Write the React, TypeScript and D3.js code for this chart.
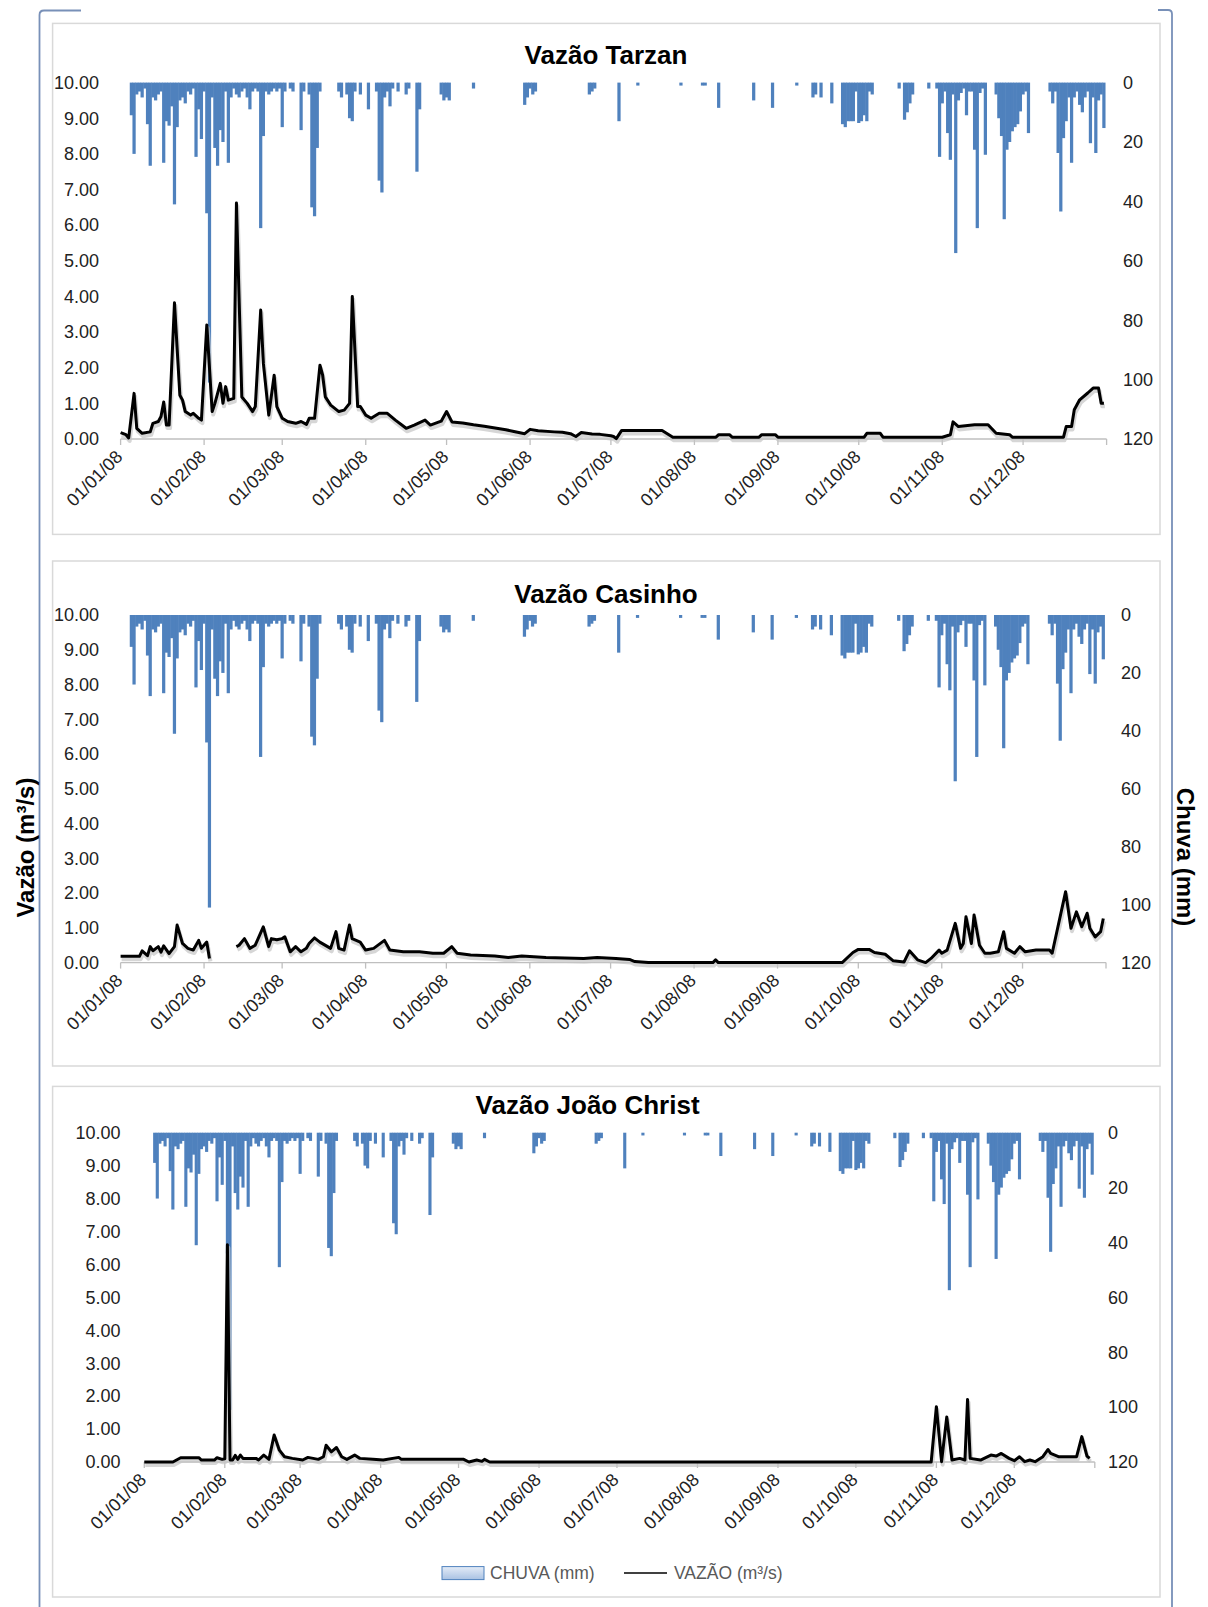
import React from 'react';
import * as d3 from 'd3';

// day index (0 = 01/01/08) and value pairs
const flowTicks = [0, 1, 2, 3, 4, 5, 6, 7, 8, 9, 10];
const rainTicks = [0, 20, 40, 60, 80, 100, 120];

// daily rain (mm) - same gauge in the three panels
const rain: [number, number][] = [
  [4, 11], [5, 24], [6, 4], [7, 3], [8, 5], [9, 2], [10, 14], [11, 28], [12, 5], [13, 6], [14, 4], [15, 3],
  [16, 27], [17, 13], [18, 14.5], [19, 8], [20, 41], [21, 15], [22, 6], [23, 5], [24, 7], [25, 3], [26, 4],
  [27, 2], [28, 25], [29, 9], [30, 19], [31, 3], [32, 44], [33, 101], [34, 5], [35, 22], [36, 28], [37, 16],
  [38, 20], [39, 3], [40, 27], [41, 5], [42, 2], [43, 4], [44, 5], [45, 3], [46, 2], [47, 5], [48, 9], [49, 3],
  [50, 2], [51, 3], [52, 49], [53, 18], [54, 3], [55, 4], [56, 3], [57, 2], [58, 3], [59, 2], [60, 15], [61, 3],
  [63, 2], [64, 3], [67, 16], [68, 3], [70, 4], [71, 42], [72, 45], [73, 22], [74, 3], [81, 3], [82, 5], [84, 4],
  [85, 12], [86, 13], [87, 3], [89, 4], [92, 9], [95, 3], [96, 33], [97, 37], [98, 5], [99, 3], [100, 8],
  [101, 2], [103, 3], [106, 4], [107, 2], [110, 30], [111, 9], [119, 4], [120, 6], [121, 5], [122, 6], [131, 2],
  [150, 7.5], [151, 5], [152, 2], [153, 4], [154, 3], [174, 4], [175, 3], [176, 2], [185, 13], [192, 1],
  [208, 1], [216, 1], [217, 1], [222, 8.5], [235, 6], [242, 8.5], [251, 1], [257, 5], [258, 4], [260, 5],
  [264, 7], [268, 14], [269, 15], [270, 13], [271, 13], [272, 13], [273, 3], [274, 13.6], [275, 13], [276, 11],
  [277, 13], [278, 3], [279, 4], [289, 2], [291, 12.5], [292, 10], [293, 7], [294, 4], [300, 2], [303, 2],
  [304, 25], [305, 7], [306, 3], [307, 17], [308, 26], [309, 4], [310, 57.4], [311, 6], [312, 3.5], [313, 2],
  [314, 11], [315, 3], [316, 3], [317, 22.6], [318, 49], [319, 3.5], [320, 2], [321, 24.3], [325, 4], [326, 12],
  [327, 18], [328, 46], [329, 22.6], [330, 20], [331, 16.4], [332, 15], [333, 14], [334, 9.7], [335, 4],
  [336, 3], [337, 17], [345, 3], [346, 7], [347, 3], [348, 23.7], [349, 43.4], [350, 18.7], [351, 13], [352, 5],
  [353, 27], [354, 5], [355, 3], [356, 7.5], [357, 10], [358, 5], [359, 3], [360, 20.4], [361, 5], [362, 23.7],
  [363, 6], [364, 4], [365, 15.3],
];

const tarzan: [number, number | null][] = [
  [0, 0.18], [2, 0.12], [3, 0.03], [5, 1.28], [6, 0.3], [8, 0.16], [11, 0.2], [12, 0.44], [14, 0.49], [15, 0.63],
  [16, 1.04], [17, 0.39], [18, 0.39], [20, 3.82], [22, 1.23], [23, 1.09], [24, 0.77], [26, 0.67], [27, 0.72],
  [29, 0.58], [30, 0.53], [32, 3.2], [34, 0.77], [35, 1.0], [37, 1.56], [38, 1.0], [39, 1.47], [40, 1.09],
  [42, 1.14], [43, 6.62], [45, 1.18], [47, 1.0], [49, 0.77], [50, 0.91], [52, 3.62], [53, 2.12], [55, 0.67],
  [57, 1.79], [58, 0.91], [60, 0.58], [62, 0.49], [65, 0.44], [67, 0.49], [69, 0.41], [70, 0.58], [72, 0.58],
  [74, 2.07], [75, 1.79], [76, 1.18], [78, 0.95], [81, 0.77], [83, 0.81], [85, 1.0], [86, 4.0], [88, 0.91],
  [89, 0.91], [91, 0.67], [93, 0.58], [96, 0.72], [99, 0.72], [102, 0.53], [106, 0.3], [109, 0.39], [113, 0.53],
  [115, 0.39], [119, 0.5], [121, 0.77], [123, 0.48], [127, 0.45], [131, 0.4], [135, 0.36], [139, 0.31],
  [143, 0.26], [146, 0.21], [150, 0.15], [152, 0.27], [155, 0.23], [161, 0.2], [164, 0.19], [167, 0.15],
  [169, 0.07], [171, 0.18], [175, 0.14], [178, 0.13], [182, 0.09], [183, 0.07], [184, 0.01], [186, 0.24],
  [201, 0.24], [205, 0.05], [221, 0.05], [222, 0.12], [226, 0.12], [227, 0.05], [237, 0.05], [238, 0.12],
  [243, 0.12], [244, 0.05], [276, 0.05], [277, 0.16], [282, 0.16], [283, 0.05], [305, 0.05], [308, 0.12],
  [309, 0.48], [311, 0.35], [317, 0.4], [322, 0.4], [325, 0.16], [330, 0.12], [331, 0.05], [350, 0.05],
  [351, 0.35], [353, 0.35], [354, 0.82], [356, 1.1], [359, 1.29], [361, 1.43], [363, 1.43], [364, 1.0],
  [365, 1.0],
];

const casinho: [number, number | null][] = [
  [0, 0.18], [7, 0.18], [8, 0.34], [10, 0.2], [11, 0.46], [12, 0.34], [14, 0.46], [15, 0.3], [16, 0.48],
  [18, 0.26], [20, 0.46], [21, 1.08], [23, 0.55], [25, 0.41], [27, 0.36], [29, 0.64], [30, 0.41], [32, 0.59],
  [33, 0.12], [34, null], [43, 0.46], [44, 0.5], [46, 0.69], [48, 0.41], [50, 0.5], [53, 1.03], [55, 0.46],
  [56, 0.69], [58, 0.66], [60, 0.69], [61, 0.74], [63, 0.31], [65, 0.46], [67, 0.31], [69, 0.41], [70, 0.55],
  [72, 0.71], [74, 0.59], [78, 0.41], [80, 0.89], [81, 0.41], [83, 0.36], [85, 1.08], [86, 0.69], [89, 0.59],
  [91, 0.36], [94, 0.41], [98, 0.64], [100, 0.36], [105, 0.31], [111, 0.31], [116, 0.27], [120, 0.27],
  [123, 0.46], [125, 0.27], [130, 0.22], [139, 0.19], [144, 0.15], [149, 0.19], [158, 0.15], [172, 0.12],
  [177, 0.15], [184, 0.12], [189, 0.09], [191, 0.03], [196, 0], [220, 0], [221, 0.08], [222, 0], [268, 0],
  [272, 0.29], [274, 0.38], [278, 0.38], [280, 0.29], [284, 0.24], [287, 0.05], [291, 0.02], [293, 0.34],
  [296, 0.08], [299, 0], [301, 0.12], [304, 0.36], [305, 0.27], [307, 0.36], [310, 1.13], [312, 0.41],
  [313, 0.55], [314, 1.32], [316, 0.55], [317, 1.37], [319, 0.5], [321, 0.27], [323, 0.27], [326, 0.31],
  [328, 0.89], [329, 0.41], [332, 0.27], [334, 0.46], [336, 0.31], [340, 0.36], [345, 0.36], [346, 0.27],
  [351, 2.04], [353, 0.99], [355, 1.46], [357, 1.03], [359, 1.42], [360, 0.99], [362, 0.74], [364, 0.89],
  [365, 1.27],
];

const joao: [number, number | null][] = [
  [0, 0], [11, 0], [14, 0.13], [21, 0.13], [22, 0.06], [27, 0.06], [28, 0.13], [30, 0.08], [31, 0.1],
  [32, 6.6], [33, 0.06], [34, 0.06], [35, 0.2], [36, 0.08], [37, 0.21], [38, 0.11], [43, 0.11], [44, 0.06],
  [46, 0.21], [48, 0.08], [50, 0.82], [52, 0.36], [54, 0.16], [57, 0.11], [61, 0.06], [63, 0.14], [67, 0.08],
  [69, 0.16], [70, 0.51], [72, 0.31], [74, 0.44], [76, 0.16], [78, 0.08], [81, 0.21], [83, 0.11], [88, 0.08],
  [92, 0.06], [98, 0.14], [99, 0.08], [123, 0.08], [125, 0], [128, 0.06], [130, 0.02], [131, 0.08], [133, 0],
  [303, 0], [305, 1.68], [307, 0.01], [309, 1.37], [311, 0.06], [314, 0.11], [316, 0.06], [317, 1.9],
  [318, 0.11], [322, 0.06], [326, 0.21], [328, 0.18], [330, 0.26], [333, 0.11], [335, 0.04], [337, 0.16],
  [339, 0.01], [341, 0.06], [343, 0.01], [346, 0.16], [348, 0.38], [349, 0.26], [352, 0.16], [359, 0.16],
  [361, 0.77], [363, 0.18], [364, 0.11],
];

const START = Date.UTC(2008, 0, 1);
const END = Date.UTC(2009, 0, 1);
const dayToDate = (d: number) => new Date(START + d * 86400000);
const fmtDate = d3.utcFormat('%d/%m/%y');
const monthTicks = d3.utcMonth.range(new Date(START), new Date(END));

const panels = [
  { title: 'Vazão Tarzan', flow: tarzan, boxTop: 23.4, boxBottom: 534.4, x0: 120.6, x1: 1106.6, top: 82.6, bottom: 439, titleX: 606, titleY: 63.7, leftLab: 99, rightLab: 1123 },
  { title: 'Vazão Casinho', flow: casinho, boxTop: 561, boxBottom: 1066, x0: 120.6, x1: 1106, top: 615, bottom: 962.6, titleX: 606, titleY: 602.5, leftLab: 99, rightLab: 1121 },
  { title: 'Vazão João Christ', flow: joao, boxTop: 1086.4, boxBottom: 1597, x0: 144.3, x1: 1094.8, top: 1132.7, bottom: 1462, titleX: 587.6, titleY: 1113.8, leftLab: 120.6, rightLab: 1108 },
];

const BLUE = '#4f81bd';
const FONT = '"Liberation Sans", Arial, sans-serif';

function Panel({ p }: { p: typeof panels[number] }) {
  const x = d3.scaleUtc().domain([new Date(START), new Date(END)]).range([p.x0, p.x1]);
  const yFlow = d3.scaleLinear().domain([0, 10]).range([p.bottom, p.top]);
  const yRain = d3.scaleLinear().domain([0, 120]).range([p.top, p.bottom]);
  const dayW = x(dayToDate(1)) - x(dayToDate(0));
  const barW = dayW * 1.2;
  const line = d3
    .line<[number, number | null]>()
    .defined((d) => d[1] != null)
    .x((d) => x(dayToDate(d[0])))
    .y((d) => yFlow(d[1] as number));
  const path = line(p.flow) || '';

  return (
    <g>
      <rect x={52.6} y={p.boxTop} width={1160 - 52.6} height={p.boxBottom - p.boxTop} fill="#fff" stroke="#d9d9d9" strokeWidth={1.5} />
      <text x={p.titleX} y={p.titleY} textAnchor="middle" fontSize={26} fontWeight="bold" fill="#000">{p.title}</text>

      {/* rain bars hanging from the top */}
      {rain.map(([d, mm]) => (
        <rect key={d} x={x(dayToDate(d)) - barW / 2} y={yRain(0)} width={barW} height={yRain(mm) - yRain(0)} fill={BLUE} />
      ))}

      {/* x axis */}
      <line x1={p.x0} x2={p.x1} y1={p.bottom} y2={p.bottom} stroke="#bfbfbf" strokeWidth={1.3} />
      {[...monthTicks, new Date(END)].map((t, i) => (
        <line key={i} x1={x(t)} x2={x(t)} y1={p.bottom} y2={p.bottom + 6} stroke="#bfbfbf" strokeWidth={1.3} />
      ))}
      {monthTicks.map((t, i) => (
        <text key={i} transform={`translate(${x(t) + 3},${p.bottom + 19}) rotate(-45)`} textAnchor="end" fontSize={18} fill="#222">
          {fmtDate(t)}
        </text>
      ))}

      {/* left axis labels */}
      {flowTicks.map((v) => (
        <text key={v} x={p.leftLab} y={yFlow(v)} dy="0.35em" textAnchor="end" fontSize={18} fill="#222">
          {v.toFixed(2)}
        </text>
      ))}
      {/* right axis labels */}
      {rainTicks.map((v) => (
        <text key={v} x={p.rightLab} y={yRain(v)} dy="0.35em" textAnchor="start" fontSize={18} fill="#222">
          {v}
        </text>
      ))}

      {/* flow line with soft shadow */}
      <path d={path} fill="none" stroke="#c4c4c4" strokeWidth={4} strokeLinejoin="round" transform="translate(1,3)" opacity={0.7} />
      <path d={path} fill="none" stroke="#000" strokeWidth={3} strokeLinejoin="round" />
    </g>
  );
}

export default function App() {
  return (
    <svg width={1208} height={1607} style={{ position: 'absolute', left: 0, top: 0, background: '#fff' }} fontFamily={FONT}>
      <defs>
        <linearGradient id="legFill" x1="0" y1="0" x2="0" y2="1">
          <stop offset="0" stopColor="#e4ecf7" />
          <stop offset="1" stopColor="#a9c2e3" />
        </linearGradient>
      </defs>
      <rect x={0} y={0} width={1208} height={1607} fill="#fff" />
      {/* outer frame brackets */}
      <path d="M81,10.5 L44,10.5 Q39.5,10.5 39.5,15 L39.5,1607" fill="none" stroke="#7890b8" strokeWidth={1.8} />
      <path d="M1158,10 L1168,10 Q1172,10 1172,14 L1172,1607" fill="none" stroke="#7890b8" strokeWidth={1.8} />

      {panels.map((p) => (
        <Panel key={p.title} p={p} />
      ))}

      <text transform="translate(25.7,847.6) rotate(-90)" dy="0.35em" textAnchor="middle" fontSize={24} fontWeight="bold" fill="#000">
        Vazão (m³/s)
      </text>
      <text transform="translate(1185.5,857) rotate(90)" dy="0.35em" textAnchor="middle" fontSize={24} fontWeight="bold" fill="#000">
        Chuva (mm)
      </text>

      {/* legend */}
      <rect x={442} y={1566.6} width={42} height={13} fill="url(#legFill)" stroke={BLUE} strokeWidth={1} />
      <text x={490} y={1578.5} fontSize={17.5} fill="#595959">CHUVA (mm)</text>
      <line x1={624} x2={667} y1={1573} y2={1573} stroke="#000" strokeWidth={1.5} />
      <text x={674} y={1578.5} fontSize={17.5} fill="#595959">VAZÃO (m³/s)</text>
    </svg>
  );
}
